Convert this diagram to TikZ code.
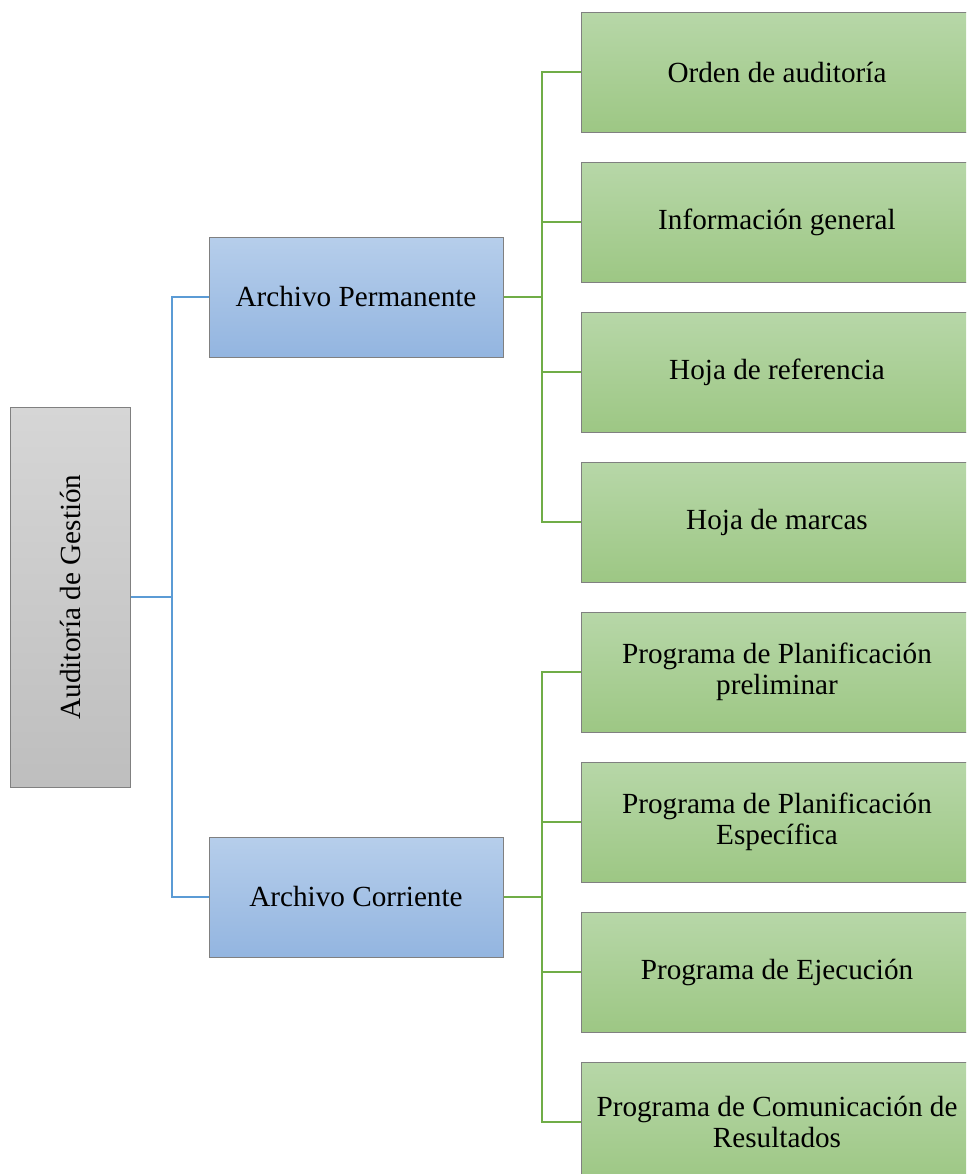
\documentclass[tikz,border=0pt]{standalone}
\usepackage{fontspec}
\setmainfont{Liberation Serif}
\usepackage{xcolor}
\usepackage{tikz}

\definecolor{bluetop}{RGB}{182,206,235}
\definecolor{bluebot}{RGB}{147,181,224}
\definecolor{greentop}{RGB}{183,215,168}
\definecolor{greenbot}{RGB}{157,199,132}
\definecolor{graytop}{RGB}{214,214,214}
\definecolor{graybot}{RGB}{190,190,190}
\definecolor{bluelink}{RGB}{91,155,213}
\definecolor{greenlink}{RGB}{112,173,71}
\definecolor{boxline}{RGB}{128,128,128}

\begin{document}
\begin{tikzpicture}[x=0.5pt,y=0.5pt,yscale=-1,xscale=1,
	box/.style={draw=boxline,line width=0.5pt,inner sep=0pt,align=center,
		font=\fontsize{14.6}{15.6}\selectfont},
	rootbox/.style={box,top color=graytop,bottom color=graybot,minimum width=60pt,minimum height=190pt},
	filebox/.style={box,top color=bluetop,bottom color=bluebot,minimum width=147pt,minimum height=60pt},
	docbox/.style={box,top color=greentop,bottom color=greenbot,minimum width=196pt,minimum height=60pt},
	bluewire/.style={draw=bluelink,line width=1pt},
	greenwire/.style={draw=greenlink,line width=1pt}]
		\useasboundingbox (0,0) rectangle (966,1174);
		\clip (0,0) rectangle (966,1174);
		
		%Shape: Rectangle [root]
		\node [rootbox] (root) at (70,597) {\rotatebox{90}{Auditoría de Gestión}};
		
		%Shape: Rectangle [files]
		\node [filebox] (perm) at (356,297) {Archivo Permanente};
		\node [filebox] (corr) at (356,897) {Archivo Corriente};
		
		%Shape: Rectangle [documents of the permanent file]
		\node [docbox] (orden) at (777,72) {Orden de auditoría};
		\node [docbox] (info) at (777,222) {Información general};
		\node [docbox] (ref) at (777,372) {Hoja de referencia};
		\node [docbox] (marcas) at (777,522) {Hoja de marcas};
		
		%Shape: Rectangle [documents of the current file]
		\node [docbox] (plapre) at (777,672) {Programa de Planificación\\ preliminar};
		\node [docbox] (plaesp) at (777,822) {Programa de Planificación\\ Específica};
		\node [docbox] (ejec) at (777,972) {Programa de Ejecución};
		\node [docbox] (comun) at (777,1122) {Programa de Comunicación de\\ Resultados};
		
		%Connectors
		\draw [bluewire] (root.east) -- ++(41,0) coordinate (rootfork);
		\draw [bluewire] (rootfork) |- (perm.west);
		\draw [bluewire] (rootfork) |- (corr.west);
		
		\draw [greenwire] (perm.east) -- ++(38,0) coordinate (permfork);
		\draw [greenwire] (permfork) |- (orden.west);
		\draw [greenwire] (permfork) |- (info.west);
		\draw [greenwire] (permfork) |- (ref.west);
		\draw [greenwire] (permfork) |- (marcas.west);
		
		\draw [greenwire] (corr.east) -- ++(38,0) coordinate (corrfork);
		\draw [greenwire] (corrfork) |- (plapre.west);
		\draw [greenwire] (corrfork) |- (plaesp.west);
		\draw [greenwire] (corrfork) |- (ejec.west);
		\draw [greenwire] (corrfork) |- (comun.west);
		
\end{tikzpicture}
\end{document}
